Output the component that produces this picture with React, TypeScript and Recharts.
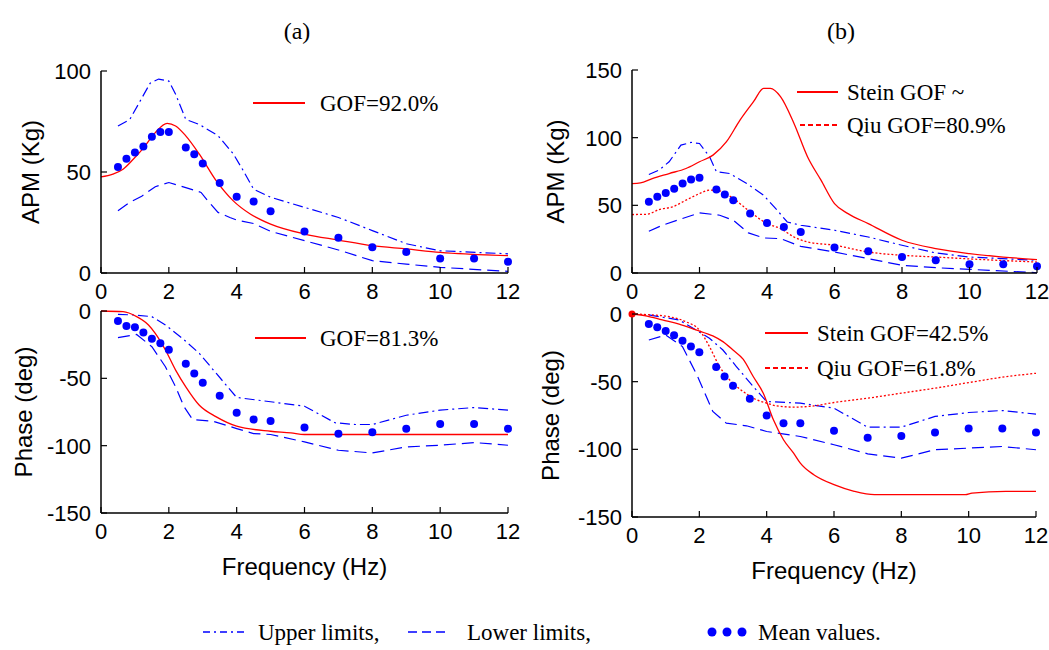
import React from 'react';
import { LineChart, Line, XAxis, YAxis } from 'recharts';

const SANS = '"Liberation Sans", Arial, sans-serif';
const SERIF = '"Liberation Serif", "Times New Roman", serif';
const BLUE = '#0000FF';
const RED = '#FF0000';

const xTicks = [0, 2, 4, 6, 8, 10, 12];
const apmTicksA = [0, 50, 100];
const apmTicksB = [0, 50, 100, 150];
const phaseTicks = [-150, -100, -50, 0];

// measured frequencies for the mean values
const meanFreq = [0.5, 0.75, 1, 1.25, 1.5, 1.75, 2, 2.5, 2.75, 3, 3.5, 4, 4.5, 5, 6, 7, 8, 9, 10, 11, 12];

// (a) APM
const meanApmA = [52.5, 56.5, 59.6, 62.6, 67.4, 69.8, 69.8, 62.1, 58.8, 54.2, 44.6, 37.7, 35.4, 30.6, 20.6, 17.5, 12.7, 10.4, 7.2, 7.2, 5.6];
const upperApmFreqA = [0.5, 0.85, 1.15, 1.45, 1.7, 2, 2.2, 2.5, 2.9, 3.45, 3.9, 4.2, 4.5, 5, 6, 7, 8, 9, 10, 12];
const upperApmA = [72.8, 76, 85, 94, 96, 95, 88.5, 76, 73.5, 68, 59, 50.5, 41.5, 37.5, 32.5, 27.5, 21, 14.5, 11, 9.5];
const lowerApmFreqA = [0.5, 0.85, 1.2, 1.6, 2, 2.5, 2.95, 3.15, 3.45, 3.8, 4, 4.5, 5, 6, 7, 8, 9, 10, 12];
const lowerApmA = [30.8, 35, 38, 42.7, 44.8, 42.3, 39.9, 35.7, 30, 27.5, 26.2, 24.5, 20.6, 16, 11.4, 6.1, 4.4, 2.8, 0.8];
const fitApmFreqA = [0, 0.35, 0.65, 0.95, 1.25, 1.6, 1.95, 2.2, 2.5, 2.9, 3.4, 3.9, 4.4, 5, 6, 7, 8, 9, 10, 12];
const fitApmA = [47.6, 49, 51.4, 56.3, 61.8, 69.5, 74.1, 72.8, 67.9, 58.8, 45.6, 35.7, 29.2, 24.2, 19.3, 16.3, 13.5, 11.9, 10.2, 8.6];

// (a) phase
const meanPhaseA = [-7.4, -11.2, -12.1, -15.9, -20.6, -24, -28.8, -39.2, -46.4, -53.3, -63, -75.6, -80.6, -81.6, -86.5, -91.2, -90, -87.5, -84, -84, -87.5];
const upperPhaseFreqA = [0.5, 1, 1.5, 1.9, 2.4, 2.9, 3.4, 4, 5, 6, 6.9, 7.5, 8, 9, 10, 11, 12];
const upperPhaseA = [-2.5, -3, -4.2, -10.4, -20.3, -31.5, -46.4, -64.2, -67.4, -70.7, -83, -84.3, -84.3, -77.4, -73.6, -71.7, -73.6];
const lowerPhaseFreqA = [0.5, 1.05, 1.5, 1.9, 2.2, 2.45, 2.7, 3.3, 4, 4.5, 5, 6, 7, 8, 9, 10, 11, 12];
const lowerPhaseA = [-19.8, -17.4, -26.5, -41.4, -56.3, -71.2, -80.6, -81.8, -87.3, -91, -91.7, -97.2, -103.4, -105.4, -100.9, -99.7, -97.7, -99.7];
const fitPhaseFreqA = [0, 0.65, 1.05, 1.4, 1.6, 1.9, 2.2, 2.5, 2.9, 3.4, 4, 5, 5.6, 6, 12];
const fitPhaseA = [0, -0.5, -4.2, -10.4, -16.6, -29, -43.9, -56.3, -70, -78.6, -85.5, -89.3, -90.5, -91.7, -91.7];

// (b) APM
const meanApmB = [52.6, 56.3, 59.2, 62.2, 66.1, 69.1, 70.3, 61.7, 58, 53.8, 43.9, 37, 34, 30.3, 18.8, 16, 11.8, 9.4, 6.4, 6.4, 4.9];
const steinApmFreq = [0, 0.25, 0.6, 1.1, 1.6, 2, 2.4, 2.8, 3.2, 3.6, 3.9, 4.1, 4.4, 4.8, 5.2, 5.6, 6, 6.4, 7, 8, 9, 10, 11, 12];
const steinApm = [66.1, 66.6, 69.8, 73.5, 77.2, 82.2, 87.1, 97, 113, 126.6, 136.4, 136.4, 130.3, 110.5, 85.9, 68.6, 51.3, 43.9, 36.5, 24.2, 18, 14.3, 11.8, 9.9];
const qiuApmFreq = [0, 0.45, 0.8, 1.2, 1.6, 2, 2.3, 2.6, 3, 3.5, 4, 4.4, 4.8, 5.2, 6, 7, 8, 9, 10, 12];
const qiuApm = [43.2, 43.4, 46.9, 48.9, 53.8, 58.7, 61.2, 60.7, 55, 45.2, 36.5, 32.8, 26.6, 22.9, 20.5, 15.5, 13.1, 11.8, 10.4, 8.1];
const upperApmFreqB = [0.5, 0.8, 1.1, 1.45, 1.75, 2, 2.3, 2.5, 2.9, 3.4, 3.9, 4.3, 4.6, 5, 6, 7, 8, 9, 10, 12];
const upperApmB = [72.8, 76, 82.2, 94.5, 96.5, 95.7, 85.9, 74.8, 73.5, 66.1, 57.5, 46.4, 37.7, 35.3, 31.6, 26.6, 20.5, 14.8, 11.8, 9.4];
const lowerApmFreqB = [0.5, 0.9, 1.4, 2, 2.6, 3, 3.45, 3.9, 4.4, 5, 6, 7, 8, 9, 10, 12];
const lowerApmB = [30.8, 35.3, 39.5, 44.4, 42.7, 39, 29.6, 25.9, 25.4, 19.7, 15.5, 10.6, 5.7, 3.9, 2.7, 0.2];

// (b) phase
const meanPhaseB = [-7.4, -9.8, -12.5, -15.7, -19.7, -24.1, -28.3, -39.1, -46.2, -53.1, -62.7, -75, -80.7, -80.7, -86.3, -91.5, -90.2, -87.5, -84.6, -84.6, -87.5];
const steinPhaseFreq = [0, 0.45, 0.9, 1.4, 1.9, 2.4, 2.7, 3, 3.3, 3.6, 3.9, 4.2, 4.5, 4.8, 5, 5.4, 6, 6.6, 7.2, 8, 9.9, 10.1, 11.1, 12];
const steinPhase = [0, -1.5, -4.4, -7.4, -11.8, -16.2, -20.4, -26.6, -33.4, -46.2, -58.5, -78.2, -92.9, -102.8, -110.2, -118.8, -126.1, -131, -133.5, -133.5, -133.5, -132.3, -131, -131];
const qiuPhaseFreq = [0, 0.6, 1.1, 1.6, 2, 2.3, 2.6, 2.9, 3.3, 3.7, 4, 4.3, 4.8, 5.4, 6, 7, 8, 9, 10, 11, 12];
const qiuPhase = [0, -0.7, -2, -5.7, -11.8, -24.1, -38.8, -48.7, -57.3, -63.4, -65.9, -67.9, -68.8, -67.9, -65.4, -62.2, -58.5, -54.8, -50.7, -46.7, -43.8];
const upperPhaseFreqB = [0.5, 1.4, 1.9, 2.3, 2.7, 3.1, 3.6, 4, 5, 6, 7, 8, 9, 10, 11, 12];
const upperPhaseB = [-0.7, -4.4, -11.8, -17.9, -26.6, -38.8, -53.6, -64.7, -65.9, -69.6, -83.6, -83.6, -75.7, -72.8, -71.3, -74];
const lowerPhaseFreqB = [0.5, 1, 1.5, 1.95, 2.4, 2.8, 3.4, 4, 5, 6, 7, 8, 9, 10, 11, 12];
const lowerPhaseB = [-19.2, -15.5, -24.1, -46.2, -72, -80.6, -82.6, -86.8, -90.5, -96.6, -103.3, -106.5, -100.3, -99.1, -97.9, -100.3];

const zip = (xs: number[], ys: number[]) => xs.map((x, i) => ({ x, y: ys[i] }));

type Series = {
  key: string;
  data: { x: number; y: number }[];
  kind: 'fit' | 'fitDash' | 'upper' | 'lower' | 'mean';
  startDot?: boolean;
};

const BottomTick = (p: any) => (
  <g>
    <line x1={p.x} x2={p.x} y1={p.y - 10} y2={p.y - 16} stroke="#000" strokeWidth={1.2} />
    <text x={p.x} y={p.y} dy="0.72em" textAnchor="middle" fontSize={22} fontFamily={SANS} fill="#000">
      {p.payload.value}
    </text>
  </g>
);
const LeftTick = (p: any) => (
  <g>
    <line x1={p.x + 10} x2={p.x + 16} y1={p.y} y2={p.y} stroke="#000" strokeWidth={1.2} />
    <text x={p.x} y={p.y} dy="0.36em" textAnchor="end" fontSize={22} fontFamily={SANS} fill="#000">
      {p.payload.value}
    </text>
  </g>
);
const TopTick = (p: any) => <line x1={p.x} x2={p.x} y1={p.y} y2={p.y + 6} stroke="#000" strokeWidth={1.2} />;
const RightTick = (p: any) => <line x1={p.x} x2={p.x - 6} y1={p.y} y2={p.y} stroke="#000" strokeWidth={1.2} />;

function renderSeries(s: Series) {
  const common = { key: s.key, data: s.data, dataKey: 'y', isAnimationActive: false, activeDot: false as any };
  if (s.kind === 'mean') {
    return <Line {...common} type="linear" stroke="none" dot={{ r: 4, fill: BLUE, stroke: 'none' }} />;
  }
  if (s.kind === 'upper') {
    return <Line {...common} type="linear" stroke={BLUE} strokeWidth={1.2} strokeDasharray="10 4 2 4" dot={false} />;
  }
  if (s.kind === 'lower') {
    return <Line {...common} type="linear" stroke={BLUE} strokeWidth={1.2} strokeDasharray="12 6" dot={false} />;
  }
  const dot = s.startDot
    ? (p: any) =>
        p.index === 0 ? <circle key="d0" cx={p.cx} cy={p.cy} r={3.5} fill={RED} /> : <g key={'d' + p.index} />
    : false;
  return (
    <Line
      {...common}
      type="monotone"
      stroke={RED}
      strokeWidth={1.3}
      strokeDasharray={s.kind === 'fitDash' ? '2 2' : undefined}
      dot={dot as any}
    />
  );
}

type PanelProps = {
  left: number;
  top: number;
  width: number;
  height: number;
  axisWidth: number;
  rightMargin: number;
  xAxisHeight: number;
  yDomain: [number, number];
  yTicks: number[];
  yLabel: string;
  yLabelX: number;
  xLabel?: string;
  series: Series[];
};

function Panel(p: PanelProps) {
  return (
    <div style={{ position: 'absolute', left: p.left, top: p.top }}>
      <LineChart width={p.width} height={p.height} margin={{ top: 20, right: p.rightMargin, left: 0, bottom: 0 }}>
        <XAxis
          dataKey="x"
          type="number"
          domain={[0, 12]}
          ticks={xTicks}
          interval={0}
          height={p.xAxisHeight}
          tickSize={0}
          tickMargin={10}
          tickLine={false}
          tick={BottomTick}
          axisLine={{ stroke: '#000', strokeWidth: 1.5 }}
          label={
            p.xLabel
              ? {
                  content: (lp: any) => (
                    <text
                      x={lp.viewBox.x + lp.viewBox.width / 2}
                      y={lp.viewBox.y + 53}
                      textAnchor="middle"
                      dominantBaseline="central"
                      fontSize={24}
                      fontFamily={SANS}
                      fill="#000"
                    >
                      {p.xLabel}
                    </text>
                  ),
                }
              : undefined
          }
        />
        <XAxis
          xAxisId="top"
          orientation="top"
          dataKey="x"
          type="number"
          domain={[0, 12]}
          ticks={xTicks}
          interval={0}
          height={0}
          tickSize={0}
          tickMargin={0}
          tickLine={false}
          tick={TopTick}
          axisLine={{ stroke: '#000', strokeWidth: 1.5 }}
        />
        <YAxis
          type="number"
          domain={p.yDomain}
          ticks={p.yTicks}
          interval={0}
          width={p.axisWidth}
          tickSize={0}
          tickMargin={10}
          tickLine={false}
          tick={LeftTick}
          axisLine={{ stroke: '#000', strokeWidth: 1.5 }}
          label={{
            content: (lp: any) => {
              const cy = lp.viewBox.y + lp.viewBox.height / 2;
              return (
                <text
                  x={p.yLabelX}
                  y={cy}
                  transform={`rotate(-90 ${p.yLabelX} ${cy})`}
                  textAnchor="middle"
                  dominantBaseline="central"
                  fontSize={24}
                  fontFamily={SANS}
                  fill="#000"
                >
                  {p.yLabel}
                </text>
              );
            },
          }}
        />
        <YAxis
          yAxisId="right"
          orientation="right"
          type="number"
          domain={p.yDomain}
          ticks={p.yTicks}
          interval={0}
          width={0}
          tickSize={0}
          tickMargin={0}
          tickLine={false}
          tick={RightTick}
          axisLine={{ stroke: '#000', strokeWidth: 1.5 }}
        />
        {p.series.map(renderSeries)}
      </LineChart>
    </div>
  );
}

export default function App() {
  return (
    <div style={{ position: 'absolute', left: 0, top: 0, width: 1049, height: 650, background: '#fff' }}>
      <Panel
        left={0}
        top={51}
        width={530}
        height={272}
        axisWidth={101}
        rightMargin={22}
        xAxisHeight={50}
        yDomain={[0, 100]}
        yTicks={apmTicksA}
        yLabel="APM (Kg)"
        yLabelX={30}
        series={[
          { key: 'up', data: zip(upperApmFreqA, upperApmA), kind: 'upper' },
          { key: 'lo', data: zip(lowerApmFreqA, lowerApmA), kind: 'lower' },
          { key: 'fit', data: zip(fitApmFreqA, fitApmA), kind: 'fit' },
          { key: 'mean', data: zip(meanFreq, meanApmA), kind: 'mean' },
        ]}
      />
      <Panel
        left={0}
        top={291}
        width={530}
        height={302}
        axisWidth={101}
        rightMargin={22}
        xAxisHeight={80}
        yDomain={[-150, 0]}
        yTicks={phaseTicks}
        yLabel="Phase (deg)"
        yLabelX={23}
        xLabel="Frequency (Hz)"
        series={[
          { key: 'up', data: zip(upperPhaseFreqA, upperPhaseA), kind: 'upper' },
          { key: 'lo', data: zip(lowerPhaseFreqA, lowerPhaseA), kind: 'lower' },
          { key: 'fit', data: zip(fitPhaseFreqA, fitPhaseA), kind: 'fit' },
          { key: 'mean', data: zip(meanFreq, meanPhaseA), kind: 'mean' },
        ]}
      />
      <Panel
        left={530}
        top={50}
        width={519}
        height={273}
        axisWidth={102}
        rightMargin={12}
        xAxisHeight={50}
        yDomain={[0, 150]}
        yTicks={apmTicksB}
        yLabel="APM (Kg)"
        yLabelX={25}
        series={[
          { key: 'up', data: zip(upperApmFreqB, upperApmB), kind: 'upper' },
          { key: 'lo', data: zip(lowerApmFreqB, lowerApmB), kind: 'lower' },
          { key: 'stein', data: zip(steinApmFreq, steinApm), kind: 'fit' },
          { key: 'qiu', data: zip(qiuApmFreq, qiuApm), kind: 'fitDash' },
          { key: 'mean', data: zip(meanFreq, meanApmB), kind: 'mean' },
        ]}
      />
      <Panel
        left={530}
        top={294}
        width={519}
        height={303}
        axisWidth={102}
        rightMargin={13}
        xAxisHeight={80}
        yDomain={[-150, 0]}
        yTicks={phaseTicks}
        yLabel="Phase (deg)"
        yLabelX={20}
        xLabel="Frequency (Hz)"
        series={[
          { key: 'up', data: zip(upperPhaseFreqB, upperPhaseB), kind: 'upper' },
          { key: 'lo', data: zip(lowerPhaseFreqB, lowerPhaseB), kind: 'lower' },
          { key: 'stein', data: zip(steinPhaseFreq, steinPhase), kind: 'fit', startDot: true },
          { key: 'qiu', data: zip(qiuPhaseFreq, qiuPhase), kind: 'fitDash' },
          { key: 'mean', data: zip(meanFreq, meanPhaseB), kind: 'mean' },
        ]}
      />
      <svg
        width={1049}
        height={650}
        style={{ position: 'absolute', left: 0, top: 0, pointerEvents: 'none' }}
        fontFamily={SERIF}
      >
        <text x={297} y={31} textAnchor="middle" dominantBaseline="central" fontSize={24}>(a)</text>
        <text x={841} y={31} textAnchor="middle" dominantBaseline="central" fontSize={24}>(b)</text>

        <line x1={253} x2={305} y1={103} y2={103} stroke={RED} strokeWidth={2} />
        <text x={320} y={103} dominantBaseline="central" fontSize={23}>GOF=92.0%</text>
        <line x1={255} x2={306} y1={338} y2={338} stroke={RED} strokeWidth={2} />
        <text x={320} y={338} dominantBaseline="central" fontSize={23}>GOF=81.3%</text>

        <line x1={797} x2={838} y1={92} y2={92} stroke={RED} strokeWidth={2} />
        <text x={847} y={92} dominantBaseline="central" fontSize={23}>Stein GOF ~</text>
        <line x1={800} x2={838} y1={125} y2={125} stroke={RED} strokeWidth={2} strokeDasharray="5 3" />
        <text x={847} y={125} dominantBaseline="central" fontSize={23}>Qiu GOF=80.9%</text>

        <line x1={765} x2={808} y1={333} y2={333} stroke={RED} strokeWidth={2} />
        <text x={817} y={333} dominantBaseline="central" fontSize={23}>Stein GOF=42.5%</text>
        <line x1={765} x2={808} y1={368} y2={368} stroke={RED} strokeWidth={2} strokeDasharray="5 3" />
        <text x={817} y={368} dominantBaseline="central" fontSize={23}>Qiu GOF=61.8%</text>

        <line x1={203} x2={245} y1={632} y2={632} stroke={BLUE} strokeWidth={1.5} strokeDasharray="7 4 2 4" />
        <text x={258} y={632} dominantBaseline="central" fontSize={23}>Upper limits,</text>
        <line x1={408} x2={450} y1={632} y2={632} stroke={BLUE} strokeWidth={1.5} strokeDasharray="9 5" />
        <text x={467} y={632} dominantBaseline="central" fontSize={23}>Lower limits,</text>
        <circle cx={712} cy={632} r={4.5} fill={BLUE} />
        <circle cx={727} cy={632} r={4.5} fill={BLUE} />
        <circle cx={742} cy={632} r={4.5} fill={BLUE} />
        <text x={758} y={632} dominantBaseline="central" fontSize={23}>Mean values.</text>
      </svg>
    </div>
  );
}
